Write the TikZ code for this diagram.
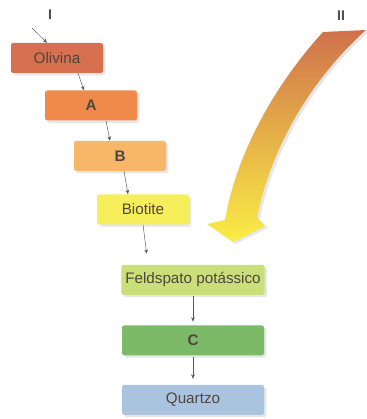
\documentclass[tikz,border=0pt]{standalone}
\usepackage{fontspec}
\setmainfont{Liberation Sans}
\usepackage{tikz}
\usetikzlibrary{positioning,arrows.meta,shadows}
\usepackage{xcolor}
\definecolor{olivina}{RGB}{214,112,78}
\definecolor{mina}{RGB}{240,138,74}
\definecolor{minb}{RGB}{246,183,104}
\definecolor{biotite}{RGB}{247,238,92}
\definecolor{feld}{RGB}{202,222,122}
\definecolor{minc}{RGB}{124,186,104}
\definecolor{quartzo}{RGB}{170,196,224}
\definecolor{ink}{RGB}{80,70,60}
\definecolor{arrtop}{RGB}{208,114,76}
\definecolor{arrmid}{RGB}{246,166,62}
\definecolor{arrbot}{RGB}{250,238,68}

\begin{document}
\begin{tikzpicture}[
    block/.style={rounded corners=2pt, minimum width=2.76cm, minimum height=0.9cm, align=center,
        font=\fontsize{13}{15}\selectfont, text=ink,
        drop shadow={shadow xshift=0.7mm, shadow yshift=-0.7mm, opacity=0.2}},
    wideblock/.style={block, minimum width=4.26cm},
    arrow/.style={-{Stealth[length=1.3mm, width=1.1mm]}, thin, draw=black!65},
    serie/.style={font=\fontsize{12}{14}\selectfont\bfseries, text=black!70}
]
    \useasboundingbox (0,0) rectangle (10.98,-12.57);

    \node[block, fill=olivina] (s1) at (1.71,-1.74) {Olivina};
    \node[block, fill=mina, below=0.51cm of s1, xshift=1.02cm] (s2) {\textbf{A}};
    \node[block, fill=minb, below=0.6cm of s2, xshift=0.87cm] (s3) {\textbf{B}};
    \node[block, fill=biotite, below=0.69cm of s3, xshift=0.69cm] (s4) {Biotite};
    \node[wideblock, fill=feld, below=1.2cm of s4, xshift=1.5cm] (s5) {Feldspato potássico};
    \node[wideblock, fill=minc, below=0.9cm of s5] (s6) {\textbf{C}};
    \node[wideblock, fill=quartzo, below=0.87cm of s6] (s7) {Quartzo};

    \node[serie] (lI) at (1.5,-0.45) {I};
    \node[serie] (lII) at (10.23,-0.48) {II};

    % serie discontinua
    \coordinate (s0) at (0.96,-0.84);
    \draw[arrow] (s0) -- ([xshift=-0.3cm]s1.north);
    \draw[arrow] ([xshift=0.63cm]s1.south) -- ([xshift=-0.21cm]s2.north);
    \draw[arrow] ([xshift=0.45cm]s2.south) -- ([xshift=-0.3cm]s3.north);
    \draw[arrow] ([xshift=0.12cm]s3.south) -- ([xshift=-0.45cm]s4.north);
    \draw[arrow, shorten >=0.33cm] (s4.south) -- ([xshift=-1.35cm]s5.north);
    \draw[arrow, shorten <=1pt, shorten >=3pt] (s5) -- (s6);
    \draw[arrow, shorten <=1pt, shorten >=5pt] (s6) -- (s7);

    % serie continua
    \shade[top color=arrtop, middle color=arrmid, bottom color=arrbot,
        drop shadow={shadow xshift=0.8mm, shadow yshift=-0.6mm, opacity=0.2}]
        (9.69,-0.96) .. controls (8.1,-2.7) and (7.05,-4.8) .. (6.75,-6.6)
        -- (6.21,-6.72) -- (6.99,-7.26) -- (7.95,-6.78) -- (7.71,-6.54)
        .. controls (8.1,-4.5) and (9.3,-2.4) .. (10.98,-0.9) -- cycle;
\end{tikzpicture}
\end{document}
